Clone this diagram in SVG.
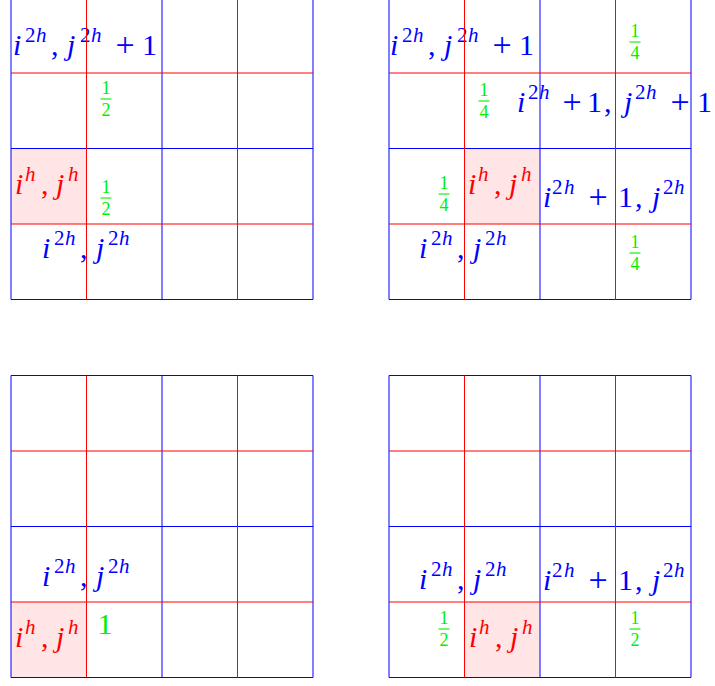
<svg xmlns="http://www.w3.org/2000/svg" width="715" height="686" viewBox="0 0 715 686">
<style>
  text { font-family: "Liberation Serif", "Times New Roman", serif; }
  .b { fill: #0000ff; font-size: 30px; }
  .r { fill: #ff0000; font-size: 30px; }
  .s { font-size: 21px; }
  .p { font-size: 34px; }
  .it { font-style: italic; }
  .g { fill: #00f000; font-size: 18px; text-anchor: middle; }
  .g1 { fill: #00f000; font-size: 30px; text-anchor: middle; }
  .bar { stroke: #00f000; stroke-width: 1.1; }
  .shade { fill: #ffe5e5; }
  .lb { stroke: #0000ff; stroke-width: 1; fill: none; }
  .lr { stroke: #ff0000; stroke-width: 1; fill: none; }
</style>

<!-- Top-left panel -->
<g id="panel-tl">
  <rect class="shade" x="11" y="148.5" width="75.5" height="75.5"/>
  <text class="b"><tspan class="it" x="13" y="55">i</tspan><tspan class="s" x="25" y="42">2</tspan><tspan class="s it" x="36" y="42">h</tspan><tspan x="51" y="55">,</tspan><tspan class="it" x="67" y="55">j</tspan><tspan class="s" x="80" y="42">2</tspan><tspan class="s it" x="91" y="42">h</tspan><tspan class="p" x="115.5" y="56">+</tspan><tspan x="142" y="55">1</tspan></text>
  <text class="r"><tspan class="it" x="15" y="194">i</tspan><tspan class="s it" x="25" y="181">h</tspan><tspan x="41" y="194">,</tspan><tspan class="it" x="56" y="194">j</tspan><tspan class="s it" x="68" y="181">h</tspan></text>
  <text class="b"><tspan class="it" x="42" y="258">i</tspan><tspan class="s" x="54" y="245">2</tspan><tspan class="s it" x="65" y="245">h</tspan><tspan x="80" y="258">,</tspan><tspan class="it" x="96" y="258">j</tspan><tspan class="s" x="108" y="245">2</tspan><tspan class="s it" x="119" y="245">h</tspan></text>
  <g id="frac-tl-1"><text class="g" x="106" y="94">1</text><line class="bar" x1="100.5" y1="99" x2="111.5" y2="99"/><text class="g" x="106" y="116">2</text></g>
  <g id="frac-tl-2"><text class="g" x="106" y="193">1</text><line class="bar" x1="100.5" y1="198" x2="111.5" y2="198"/><text class="g" x="106" y="215">2</text></g>
  <path class="lb" d="M11 -2.5V299.5M162 -2.5V299.5M313 -2.5V299.5M11 -2.5H313M11 148.5H313M11 299.5H313"/>
  <path class="lr" d="M86.5 -2.5V299.5M237.5 -2.5V299.5M11 73H313M11 224H313"/>
</g>

<!-- Top-right panel -->
<g id="panel-tr">
  <rect class="shade" x="464.5" y="148.5" width="75.5" height="75.5"/>
  <text class="b"><tspan class="it" x="390" y="55">i</tspan><tspan class="s" x="402" y="42">2</tspan><tspan class="s it" x="413" y="42">h</tspan><tspan x="428" y="55">,</tspan><tspan class="it" x="444" y="55">j</tspan><tspan class="s" x="457" y="42">2</tspan><tspan class="s it" x="468" y="42">h</tspan><tspan class="p" x="492.5" y="56">+</tspan><tspan x="519" y="55">1</tspan></text>
  <text class="b"><tspan class="it" x="517" y="112">i</tspan><tspan class="s" x="528" y="99">2</tspan><tspan class="s it" x="539" y="99">h</tspan><tspan class="p" x="562.5" y="113">+</tspan><tspan x="587" y="112">1</tspan><tspan x="604" y="112">,</tspan><tspan class="it" x="624" y="112">j</tspan><tspan class="s" x="635" y="99">2</tspan><tspan class="s it" x="646" y="99">h</tspan><tspan class="p" x="670.5" y="113">+</tspan><tspan x="697" y="112">1</tspan></text>
  <text class="r"><tspan class="it" x="468" y="194">i</tspan><tspan class="s it" x="478" y="181">h</tspan><tspan x="494" y="194">,</tspan><tspan class="it" x="509" y="194">j</tspan><tspan class="s it" x="521" y="181">h</tspan></text>
  <text class="b"><tspan class="it" x="543" y="207">i</tspan><tspan class="s" x="552" y="194">2</tspan><tspan class="s it" x="564" y="194">h</tspan><tspan class="p" x="588.5" y="208">+</tspan><tspan x="618" y="207">1</tspan><tspan x="635" y="207">,</tspan><tspan class="it" x="652" y="207">j</tspan><tspan class="s" x="663" y="194">2</tspan><tspan class="s it" x="674" y="194">h</tspan></text>
  <text class="b"><tspan class="it" x="419" y="258">i</tspan><tspan class="s" x="431" y="245">2</tspan><tspan class="s it" x="442" y="245">h</tspan><tspan x="457" y="258">,</tspan><tspan class="it" x="473" y="258">j</tspan><tspan class="s" x="485" y="245">2</tspan><tspan class="s it" x="496" y="245">h</tspan></text>
  <g id="frac-tr-1"><text class="g" x="635" y="37">1</text><line class="bar" x1="629.5" y1="42" x2="640.5" y2="42"/><text class="g" x="635" y="59">4</text></g>
  <g id="frac-tr-2"><text class="g" x="484" y="96">1</text><line class="bar" x1="478.5" y1="101" x2="489.5" y2="101"/><text class="g" x="484" y="118">4</text></g>
  <g id="frac-tr-3"><text class="g" x="444" y="189">1</text><line class="bar" x1="438.5" y1="194" x2="449.5" y2="194"/><text class="g" x="444" y="211">4</text></g>
  <g id="frac-tr-4"><text class="g" x="635" y="248">1</text><line class="bar" x1="629.5" y1="253" x2="640.5" y2="253"/><text class="g" x="635" y="270">4</text></g>
  <path class="lb" d="M389 -2.5V299.5M540 -2.5V299.5M691 -2.5V299.5M389 -2.5H691M389 148.5H691M389 299.5H691"/>
  <path class="lr" d="M464.5 -2.5V299.5M615.5 -2.5V299.5M389 73H691M389 224H691"/>
</g>

<!-- Bottom-left panel -->
<g id="panel-bl">
  <rect class="shade" x="11" y="602" width="75.5" height="75.5"/>
  <text class="b"><tspan class="it" x="42" y="586">i</tspan><tspan class="s" x="54" y="573">2</tspan><tspan class="s it" x="65" y="573">h</tspan><tspan x="80" y="586">,</tspan><tspan class="it" x="96" y="586">j</tspan><tspan class="s" x="108" y="573">2</tspan><tspan class="s it" x="119" y="573">h</tspan></text>
  <text class="r"><tspan class="it" x="15" y="647">i</tspan><tspan class="s it" x="25" y="634">h</tspan><tspan x="41" y="647">,</tspan><tspan class="it" x="56" y="647">j</tspan><tspan class="s it" x="68" y="634">h</tspan></text>
  <text class="g1" x="105" y="634">1</text>
  <path class="lb" d="M11 375.5V677.5M162 375.5V677.5M313 375.5V677.5M11 375.5H313M11 526.5H313M11 677.5H313"/>
  <path class="lr" d="M86.5 375.5V677.5M237.5 375.5V677.5M11 451H313M11 602H313"/>
</g>

<!-- Bottom-right panel -->
<g id="panel-br">
  <rect class="shade" x="464.5" y="602" width="75.5" height="75.5"/>
  <text class="b"><tspan class="it" x="419" y="589">i</tspan><tspan class="s" x="431" y="576">2</tspan><tspan class="s it" x="442" y="576">h</tspan><tspan x="457" y="589">,</tspan><tspan class="it" x="473" y="589">j</tspan><tspan class="s" x="485" y="576">2</tspan><tspan class="s it" x="496" y="576">h</tspan></text>
  <text class="b"><tspan class="it" x="543" y="590">i</tspan><tspan class="s" x="552" y="577">2</tspan><tspan class="s it" x="564" y="577">h</tspan><tspan class="p" x="588.5" y="591">+</tspan><tspan x="618" y="590">1</tspan><tspan x="635" y="590">,</tspan><tspan class="it" x="652" y="590">j</tspan><tspan class="s" x="663" y="577">2</tspan><tspan class="s it" x="674" y="577">h</tspan></text>
  <text class="r"><tspan class="it" x="469" y="647">i</tspan><tspan class="s it" x="479" y="634">h</tspan><tspan x="495" y="647">,</tspan><tspan class="it" x="510" y="647">j</tspan><tspan class="s it" x="522" y="634">h</tspan></text>
  <g id="frac-br-1"><text class="g" x="444" y="624">1</text><line class="bar" x1="438.5" y1="629" x2="449.5" y2="629"/><text class="g" x="444" y="646">2</text></g>
  <g id="frac-br-2"><text class="g" x="635" y="624">1</text><line class="bar" x1="629.5" y1="629" x2="640.5" y2="629"/><text class="g" x="635" y="646">2</text></g>
  <path class="lb" d="M389 375.5V677.5M540 375.5V677.5M691 375.5V677.5M389 375.5H691M389 526.5H691M389 677.5H691"/>
  <path class="lr" d="M464.5 375.5V677.5M615.5 375.5V677.5M389 451H691M389 602H691"/>
</g>
</svg>
